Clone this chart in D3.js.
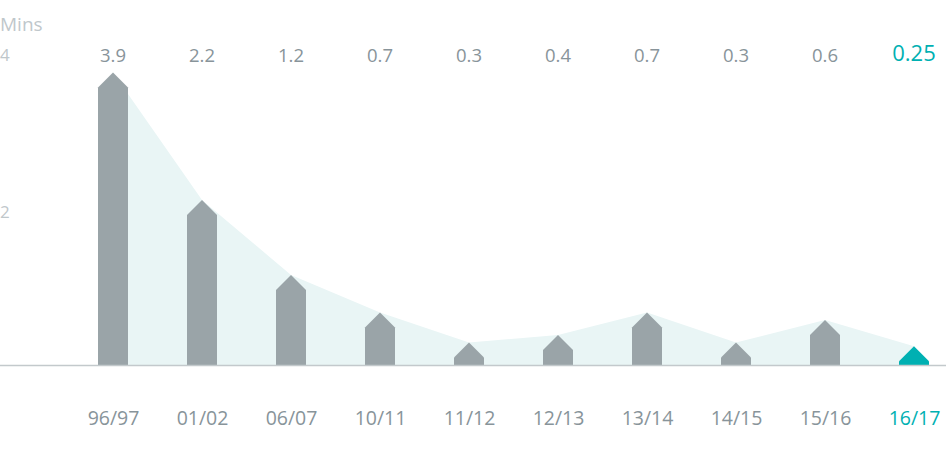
<!DOCTYPE html>
<!-- minutes chart: house-shaped bars over a light area, last season highlighted -->
<html>
<head>
<meta charset="utf-8">
<style>
  body { margin: 0; background: #fff; }
  text { font-family: "Open Sans", Lato, sans-serif; }
</style>
</head>
<body>
<div id="chart_div"></div>

<script src="https://d3js.org/d3.v7.min.js"></script>
<script>

// data
let seasons = ["96/97", "01/02", "06/07", "10/11", "11/12", "12/13", "13/14", "14/15", "15/16", "16/17"];
let minutes = [3.9, 2.2, 1.2, 0.7, 0.3, 0.4, 0.7, 0.3, 0.6, 0.25];
let value_labels = ["3.9", "2.2", "1.2", "0.7", "0.3", "0.4", "0.7", "0.3", "0.6", "0.25"];
let y_ticks = [2, 4];

let width = 946,
    height = 455,
    base_y = 365,
    bar_w = 30,
    grey = "#9aa4a8",
    text_grey = "#88949a",
    light_grey = "#bfc7cb",
    teal = "#00b0b2";

let svg = d3.select("#chart_div")
  .append("svg")
    .attr("width", width)
    .attr("height", height);

// scales
let x = d3.scalePoint()
  .domain(seasons)
  .range([113, 914]);

let y = d3.scaleLinear()
  .domain([0, 4])
  .range([base_y, base_y - 300]);

// the axis labels sit a little off the bar scale
let y_label = d3.scaleLinear()
  .domain([0, 4])
  .range([369, 55]);

let last = seasons.length - 1;
let pts = seasons.map(function(s, i){ return {s: s, v: minutes[i], i: i}; });

// light area joining the peaks
let area = d3.area()
  .x(function(d){ return x(d.s); })
  .y0(base_y)
  .y1(function(d){ return y(d.v); });

svg.append("path")
  .datum(pts)
  .attr("d", area)
  .attr("fill", "#e9f5f5");

// house shaped bars
let half = bar_w / 2;
svg.selectAll(".bar")
  .data(pts)
  .enter()
  .append("path")
    .attr("class", "bar")
    .attr("fill", function(d){ return d.i == last ? teal : grey; })
    .attr("d", function(d){
      let cx = x(d.s), top = y(d.v), shoulder = Math.min(top + half, base_y);
      return "M" + (cx - half) + "," + base_y +
             "L" + (cx - half) + "," + shoulder +
             "L" + cx + "," + top +
             "L" + (cx + half) + "," + shoulder +
             "L" + (cx + half) + "," + base_y + "Z";
    });

// baseline
svg.append("line")
  .attr("x1", 0).attr("x2", width)
  .attr("y1", base_y + 0.5).attr("y2", base_y + 0.5)
  .attr("stroke", "#c3c9cc")
  .attr("stroke-width", 1.5);

// value labels along the top
svg.selectAll(".val")
  .data(pts)
  .enter()
  .append("text")
    .attr("class", "val")
    .attr("x", function(d){ return x(d.s); })
    .attr("y", function(d){ return d.i == last ? 61 : 62; })
    .attr("text-anchor", "middle")
    .attr("fill", function(d){ return d.i == last ? teal : text_grey; })
    .attr("font-size", function(d){ return d.i == last ? 22 : 18.5; })
    .text(function(d){ return value_labels[d.i]; });

// season axis
let x_axis = svg.append("g")
  .attr("transform", "translate(0," + 411 + ")")
  .call(d3.axisBottom(x).tickSize(0).tickPadding(0));
x_axis.select(".domain").remove();
x_axis.selectAll("text")
  .attr("font-family", "'Open Sans', Lato, sans-serif")
  .attr("font-size", 19.5)
  .attr("fill", function(d, i){ return i == last ? teal : text_grey; });

// y labels
let y_axis = svg.append("g")
  .call(d3.axisRight(y_label).tickValues(y_ticks).tickSize(0).tickPadding(0).tickFormat(d3.format("d")));
y_axis.select(".domain").remove();
y_axis.selectAll("text")
  .attr("font-family", "'Open Sans', Lato, sans-serif")
  .attr("font-size", 17)
  .attr("fill", light_grey);

svg.append("text")
  .attr("x", 0)
  .attr("y", 31)
  .attr("font-size", 19)
  .attr("fill", light_grey)
  .text("Mins");

</script>
</body>
</html>
